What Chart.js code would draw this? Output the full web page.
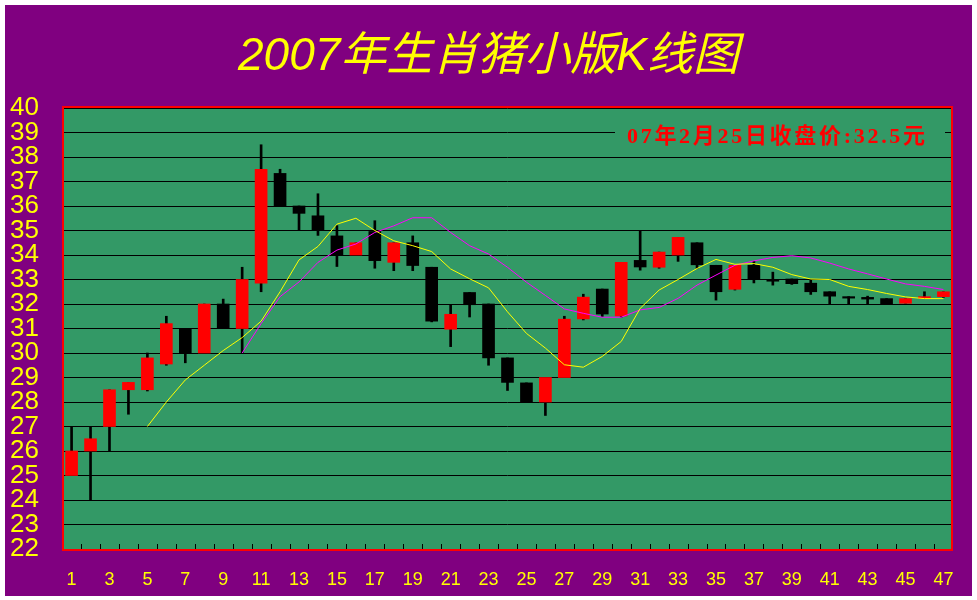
<!DOCTYPE html>
<html><head><meta charset="utf-8">
<script src="https://cdn.jsdelivr.net/npm/chart.js@4"></script>
<style>
html,body{margin:0;padding:0;background:#fff;width:977px;height:600px;overflow:hidden}
#wrap{position:absolute;left:5px;top:5px;width:967px;height:591px;background:#800080}
canvas{display:block}
</style></head><body>
<div id="wrap"><canvas id="c" width="967" height="591"></canvas></div>
<script>
const days = [1,2,3,4,5,6,7,8,9,10,11,12,13,14,15,16,17,18,19,20,21,22,23,24,25,26,27,28,29,30,31,32,33,34,35,36,37,38,39,40,41,42,43,44,45,46,47];
const tickDays = [1,3,5,7,9,11,13,15,17,19,21,23,25,27,29,31,33,35,37,39,41,43,45,47];
const openP  = [25,26,27,28.5,28.5,29.55,31,30,32,31,32.85,37.33,36,35.6,34.78,34,34.96,33.7,34.5,33.5,30.97,32.47,32,29.8,28.78,28,29,31.39,32.61,31.51,33.78,33.5,34,34.5,33.58,32.6,33.58,33,33.02,32.85,32.5,32.3,32.27,32.22,32.03,32.22,32.3];
const highP  = [27,27,28.5,28.8,30,31.5,31,32,32.2,33.5,38.5,37.5,36,36.5,35.2,34.5,35.4,34.5,34.78,33.5,31.95,32.47,32,29.8,28.78,29,31.5,32.4,32.61,33.7,35,34.12,34.72,34.5,33.58,33.58,33.74,33.3,33.02,33,32.5,32.3,32.32,32.22,32.22,32.5,32.5];
const lowP   = [25,24,26,27.5,28.45,29.5,29.6,30,31,30,32.5,36,35,34.8,33.53,34,33.46,33.36,33.36,31.27,30.26,31.47,29.5,28.47,28,27.45,29,31.35,31.49,31.46,33.38,33.46,33.74,33.45,32.16,32.57,32.86,32.77,32.8,32.39,32,32,32,32,32.03,32.22,32.27];
const closeP = [26,26.5,28.5,28.8,29.8,31.2,30,32,31,33,37.5,36,35.7,35,34,34.5,33.77,34.5,33.57,31.3,31.58,31.97,29.8,28.8,28,29,31.38,32.28,31.59,33.7,33.51,34.12,34.72,33.6,32.5,33.58,33,32.93,32.83,32.5,32.32,32.24,32.2,32,32.22,32.3,32.5];
const ma5  = [null,null,null,null,27.0,28.0,28.9,29.5,30.1,30.63,31.3,32.5,33.8,34.35,35.26,35.5,35.0,34.58,34.38,34.14,33.43,33.03,32.66,31.68,30.8,30.2,29.52,29.42,29.86,30.47,31.82,32.57,33.0,33.45,33.82,33.62,33.65,33.5,33.2,33.02,33.0,32.72,32.59,32.43,32.29,32.22,32.22];
const ma10 = [null,null,null,null,null,null,null,null,null,30.0,31.2,32.3,32.9,33.7,34.2,34.45,34.92,35.19,35.52,35.52,34.92,34.38,34.04,33.5,32.89,32.35,31.8,31.62,31.46,31.46,31.76,31.86,32.23,32.77,33.18,33.58,33.76,33.9,33.97,33.88,33.67,33.43,33.23,33.02,32.82,32.72,32.59];
const titleText = '2007年生肖猪小版K线图';
const noteText = '07年2月25日收盘价:32.5元';

const bodyColors = days.map((d,i) => closeP[i] >= openP[i] ? '#FF0000' : '#000000');

const deco = {
  id: 'deco',
  beforeDraw(chart) {
    const {ctx, chartArea: a} = chart;
    ctx.save();
    ctx.fillStyle = '#339966';
    ctx.fillRect(a.left, a.top, a.right - a.left, a.bottom - a.top);
    ctx.restore();
  },
  afterDraw(chart) {
    const {ctx, chartArea: a} = chart;
    const xs = chart.scales.x;
    ctx.save();
    ctx.strokeStyle = '#000';
    ctx.lineWidth = 1;
    ctx.beginPath();
    for (let i = 0; i < days.length - 1; i++) {
      const x = Math.round((xs.getPixelForValue(days[i]) + xs.getPixelForValue(days[i+1])) / 2) + 0.5;
      ctx.moveTo(x, a.bottom - 5);
      ctx.lineTo(x, a.bottom);
    }
    ctx.stroke();
    ctx.strokeStyle = '#FF0000';
    ctx.lineWidth = 2;
    ctx.strokeRect(a.left - 1, a.top - 1, a.right - a.left + 2, a.bottom - a.top + 2);
    ctx.fillStyle = '#FFFF00';
    ctx.font = 'italic 46px "Liberation Sans", "Noto Sans CJK SC", sans-serif';
    ctx.textAlign = 'center';
    ctx.textBaseline = 'middle';
    ctx.fillText(titleText, chart.width / 2, 52);
    ctx.fillStyle = '#339966';
    ctx.fillRect(610, 119, 330, 26);
    ctx.fillStyle = '#FF0000';
    ctx.font = 'bold 22px "Liberation Serif", "Noto Sans CJK SC", serif';
    ctx.textAlign = 'left';
    if ('letterSpacing' in ctx) ctx.letterSpacing = '2.7px';
    ctx.fillText(noteText, 622, 132);
    ctx.restore();
  }
};

new Chart(document.getElementById('c'), {
  type: 'bar',
  data: {
    datasets: [
      { type: 'line', label: 'MA5', order: 0, data: days.map((d,i) => ({x: d, y: ma5[i]})),
        borderColor: '#FFFF00', borderWidth: 1, pointRadius: 0, tension: 0, fill: false },
      { type: 'line', label: 'MA10', order: 1, data: days.map((d,i) => ({x: d, y: ma10[i]})),
        borderColor: '#FF00FF', borderWidth: 1, pointRadius: 0, tension: 0, fill: false },
      { type: 'bar', label: 'body', order: 2, grouped: false, data: days.map((d,i) => ({x: d, y: [openP[i], closeP[i]]})),
        backgroundColor: bodyColors, borderWidth: 0, borderSkipped: false, barThickness: 12 },
      { type: 'bar', label: 'wick', order: 3, grouped: false, data: days.map((d,i) => ({x: d, y: [lowP[i], highP[i]]})),
        backgroundColor: '#000000', borderWidth: 0, borderSkipped: false, barThickness: 2 }
    ]
  },
  options: {
    responsive: false,
    animation: false,
    layout: { padding: { left: 5, right: 21, top: 103, bottom: 0 } },
    plugins: { legend: { display: false }, tooltip: { enabled: false }, title: { display: false } },
    scales: {
      x: {
        type: 'linear', min: 0.6, max: 47.4, offset: false,
        grid: { display: false }, border: { display: false },
        afterBuildTicks: s => { s.ticks = tickDays.map(v => ({ value: v })); },
        afterFit: s => { s.height = 47; },
        ticks: { color: '#FFFF00', padding: 12, maxRotation: 0, autoSkip: false,
          font: { family: '"Liberation Sans", Arial, sans-serif', size: 18 },
          callback: v => String(v) }
      },
      y: {
        min: 22, max: 40,
        afterFit: s => { s.width = 54; },
        grid: { color: '#000000', lineWidth: 1, drawTicks: false },
        border: { display: false },
        ticks: { stepSize: 1, autoSkip: false, color: '#FFFF00', crossAlign: 'far', padding: 0,
          font: { family: '"Liberation Sans", Arial, sans-serif', size: 26 } }
      }
    }
  },
  plugins: [deco]
});
</script>
</body></html>
